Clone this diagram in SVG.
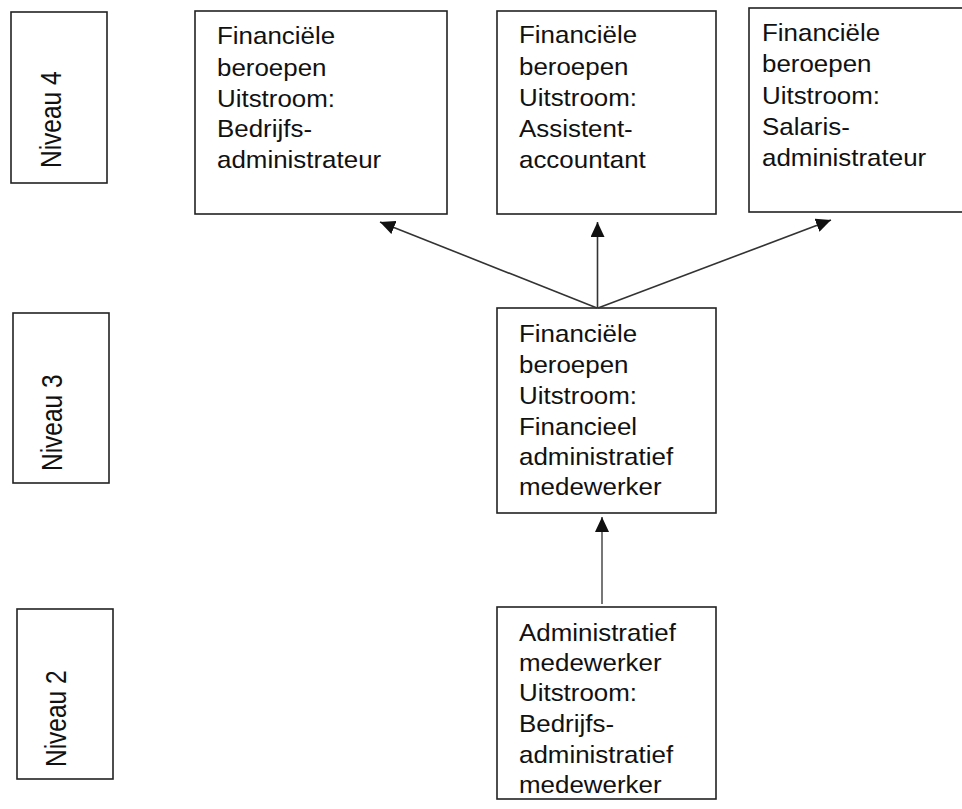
<svg xmlns="http://www.w3.org/2000/svg" width="962" height="809" viewBox="0 0 962 809">
<defs>
<style>
.box{fill:#fff;stroke:#222;stroke-width:1.6}
.t{font-family:"Liberation Sans",Arial,sans-serif;font-size:24px;fill:#111}
.conn{stroke:#333;stroke-width:1.6;fill:none}
</style>
<marker id="ah" markerWidth="16" markerHeight="14" refX="15" refY="7" orient="auto" markerUnits="userSpaceOnUse">
<path d="M0,0 L15,7 L0,14 Z" fill="#111"/>
</marker>
</defs>
<rect width="962" height="809" fill="#fff"/>
<g id="niveau4">
<rect class="box" x="11" y="12" width="96" height="171"/>
<text class="t" transform="translate(61,168) rotate(-90) scale(1.02,1.25)">Niveau 4</text>
</g>
<g id="niveau3">
<rect class="box" x="13" y="313" width="96" height="170"/>
<text class="t" transform="translate(62,471) rotate(-90) scale(1.02,1.25)">Niveau 3</text>
</g>
<g id="niveau2">
<rect class="box" x="17" y="609" width="96" height="170"/>
<text class="t" transform="translate(66,767) rotate(-90) scale(1.02,1.25)">Niveau 2</text>
</g>
<g id="bedrijfsadministrateur">
<rect class="box" x="195" y="11" width="252" height="203"/>
<text class="t" transform="translate(217,0) scale(1.08,1)"><tspan x="0" y="44">Financiële</tspan><tspan x="0" y="76">beroepen</tspan><tspan x="0" y="107">Uitstroom:</tspan><tspan x="0" y="137">Bedrijfs-</tspan><tspan x="0" y="168">administrateur</tspan></text>
</g>
<g id="assistentaccountant">
<rect class="box" x="497" y="11" width="219" height="203"/>
<text class="t" transform="translate(519,0) scale(1.08,1)"><tspan x="0" y="43">Financiële</tspan><tspan x="0" y="75">beroepen</tspan><tspan x="0" y="106">Uitstroom:</tspan><tspan x="0" y="137">Assistent-</tspan><tspan x="0" y="168">accountant</tspan></text>
</g>
<g id="salarisadministrateur">
<rect class="box" x="749" y="8" width="220" height="204"/>
<text class="t" transform="translate(762,0) scale(1.08,1)"><tspan x="0" y="41.5">Financiële</tspan><tspan x="0" y="72.5">beroepen</tspan><tspan x="0" y="104">Uitstroom:</tspan><tspan x="0" y="135">Salaris-</tspan><tspan x="0" y="166">administrateur</tspan></text>
</g>
<g id="financieeladministratief">
<rect class="box" x="497" y="308" width="219" height="205"/>
<text class="t" transform="translate(519,0) scale(1.08,1)"><tspan x="0" y="342.5">Financiële</tspan><tspan x="0" y="373">beroepen</tspan><tspan x="0" y="404.5">Uitstroom:</tspan><tspan x="0" y="435">Financieel</tspan><tspan x="0" y="465">administratief</tspan><tspan x="0" y="495">medewerker</tspan></text>
</g>
<g id="administratiefmedewerker">
<rect class="box" x="497" y="607" width="219" height="192"/>
<text class="t" transform="translate(519,0) scale(1.08,1)"><tspan x="0" y="641.5">Administratief</tspan><tspan x="0" y="671">medewerker</tspan><tspan x="0" y="701.5">Uitstroom:</tspan><tspan x="0" y="732">Bedrijfs-</tspan><tspan x="0" y="763">administratief</tspan><tspan x="0" y="793">medewerker</tspan></text>
</g>
<g id="connectors">
<line class="conn" x1="597" y1="308" x2="380" y2="222" marker-end="url(#ah)"/>
<line class="conn" x1="597.5" y1="308" x2="597.5" y2="222" marker-end="url(#ah)"/>
<line class="conn" x1="598" y1="308" x2="831" y2="220" marker-end="url(#ah)"/>
<line class="conn" x1="602" y1="604" x2="602" y2="517" marker-end="url(#ah)" style="stroke:#555"/>
</g>
</svg>
